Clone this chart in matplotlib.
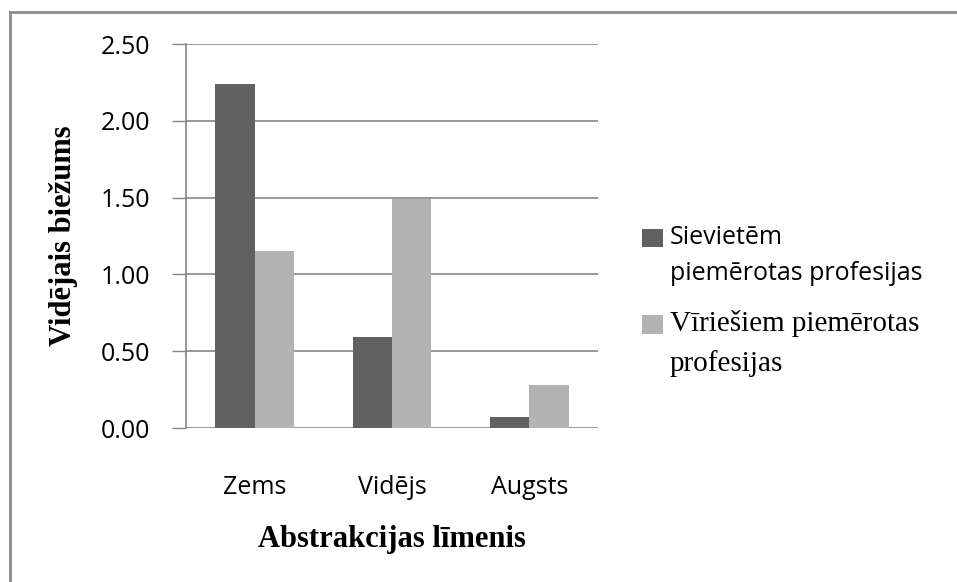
import numpy as np
import matplotlib
matplotlib.use("Agg")
import matplotlib.pyplot as plt
from matplotlib.lines import Line2D

# data
categories = ["Zems", "Vidējs", "Augsts"]
sievietem = [2.24, 0.59, 0.07]
viriesiem = [1.15, 1.49, 0.28]
series_labels = ["Sievietēm\npiemērotas profesijas", "Vīriešiem piemērotas\nprofesijas"]
yticks = [0.0, 0.5, 1.0, 1.5, 2.0, 2.5]

dark = "#616161"
light = "#b3b3b3"
grid_c = "#868686"

fig = plt.figure(figsize=(9.57, 5.82), dpi=100)
ax = fig.add_axes([186 / 957, 1 - 428 / 582, (598 - 186) / 957, (428 - 44) / 582])

x = np.arange(len(categories))
w = 0.286
ax.bar(x - w / 2, sievietem, w, color=dark, label=series_labels[0], zorder=3)
ax.bar(x + w / 2, viriesiem, w, color=light, label=series_labels[1], zorder=3)

ax.set_xlim(-0.5, 2.5)
ax.set_ylim(0, 2.5)
ax.set_yticks(yticks)
ax.set_yticklabels([f"{v:.2f}" for v in yticks], fontfamily="Open Sans", fontsize=18)
ax.set_xticks(x)
ax.set_xticklabels(categories, fontfamily="Open Sans", fontsize=18)
ax.tick_params(axis="y", length=10, width=1, color=grid_c, pad=16)
ax.tick_params(axis="x", length=0, pad=34)

ax.grid(axis="y", color=grid_c, linewidth=1.2, zorder=0)
for s in ["top", "right", "bottom"]:
    ax.spines[s].set_visible(False)
ax.spines["left"].set_color(grid_c)
ax.spines["left"].set_linewidth(1.2)

ax.set_xlabel("Abstrakcijas līmenis", fontfamily="Liberation Serif", fontweight="bold",
              fontsize=22, labelpad=18)
ax.set_ylabel("Vidējais biežums", fontfamily="Liberation Serif", fontweight="bold",
              fontsize=22, labelpad=16)

leg = fig.legend(loc="upper left", bbox_to_anchor=(642 / 957, 1 - 225 / 582),
                 frameon=False, borderpad=0, borderaxespad=0, handlelength=0.85,
                 handleheight=0.75, handletextpad=0.25, labelspacing=0.95, fontsize=18)
texts = leg.get_texts()
texts[0].set_fontfamily("Open Sans")
texts[0].set_fontsize(18)
texts[1].set_fontfamily("Liberation Serif")
texts[1].set_fontsize(21)
for t in texts:
    t.set_linespacing(1.6)
# put the legend squares beside the first line of each label
for h, dy in zip(leg.legend_handles, [13.5, 14.5]):
    h.set_y(h.get_y() + dy)

# outer frame (left and top edges only visible)
fig.add_artist(Line2D([10 / 957, 10 / 957], [0, 1 - 12 / 582], color="#8c8c8c", lw=2,
                      transform=fig.transFigure))
fig.add_artist(Line2D([10 / 957, 1], [1 - 12 / 582, 1 - 12 / 582], color="#8c8c8c", lw=2,
                      transform=fig.transFigure))

fig.savefig("out.png", dpi=100)
